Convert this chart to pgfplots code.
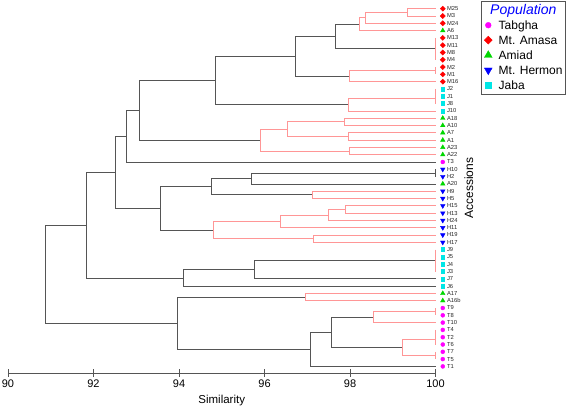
\documentclass[border=0pt]{standalone}
\usepackage{pgfplots}
\pgfplotsset{compat=1.18}
\usepackage{fontspec}
\setmainfont{Liberation Sans}
\definecolor{dk}{RGB}{85,85,85}
\definecolor{rd}{RGB}{255,150,150}
\definecolor{cT}{RGB}{255,0,255}
\definecolor{cM}{RGB}{255,0,0}
\definecolor{cA}{RGB}{0,215,0}
\definecolor{cH}{RGB}{0,0,255}
\definecolor{cJ}{RGB}{0,230,230}
\pgfplotsset{legmark/.style={legend image code/.code={\draw[mark repeat=2,mark phase=2,##1] plot coordinates {(-4pt,0pt)(0pt,0pt)(4pt,0pt)};}}}
\begin{document}
\begin{tikzpicture}
\useasboundingbox (-8pt,-35.3pt) rectangle (559pt,372.7pt);
\begin{axis}[
  scale only axis, width=427.5pt, height=372.7pt,
  xmin=90, xmax=100, ymin=0.137, ymax=51.19,
  clip=false,
  axis x line=bottom, axis y line=none,
  x axis line style={-, dk},
  xtick={90,92,...,100},
  tick align=center, major tick length=8pt,
  tick style={dk},
  /pgf/number format/assume math mode=true,
  xticklabel style={font=\fontsize{11}{13}\selectfont, text=black},
  xlabel={Similarity},
  every axis x label/.style={at={(axis description cs:0.5,0)}, anchor=base, yshift=-30.8pt, font=\fontsize{11.5}{13}\selectfont},
  legend style={at={(axis description cs:1.3046,0.9973)}, anchor=north east,
    draw=dk, font=\fontsize{12}{14}\selectfont, inner xsep=3pt, inner ysep=4pt,
    nodes={inner sep=0pt, text height=9pt, text depth=1pt}, row sep=5pt,
    /tikz/every odd column/.append style={column sep=6.5pt}},
  legend cell align=left,
]
% ---- dendrogram: dark links ----
\addplot[forget plot, dk, line width=0.7pt] coordinates {(98.22,47.875) (97.65,47.875) (97.65,44.5) (100,44.5)};
\addplot[forget plot, dk, line width=0.7pt] coordinates {(97.65,46.1875) (96.71,46.1875) (96.71,40.75) (97.98,40.75)};
\addplot[forget plot, dk, line width=0.7pt] coordinates {(96.71,43.46875) (94.85,43.46875) (94.85,36.875) (97.95,36.875)};
\addplot[forget plot, dk, line width=0.7pt] coordinates {(94.85,40.171875) (93.08,40.171875) (93.08,32) (95.90,32)};
\addplot[forget plot, dk, line width=0.7pt] coordinates {(93.08,36.0859) (92.78,36.0859) (92.78,29) (100,29)};
\addplot[forget plot, dk, line width=0.7pt] coordinates {(100,28) (100,28) (100,27) (100,27)};
\addplot[forget plot, dk, line width=0.7pt] coordinates {(100,27.5) (95.70,27.5) (95.70,26) (100,26)};
\addplot[forget plot, dk, line width=0.7pt] coordinates {(95.70,26.75) (94.76,26.75) (94.76,24.5) (97.13,24.5)};
\addplot[forget plot, dk, line width=0.7pt] coordinates {(94.76,25.625) (93.56,25.625) (93.56,19.6875) (94.81,19.6875)};
\addplot[forget plot, dk, line width=0.7pt] coordinates {(92.78,32.543) (92.50,32.543) (92.50,22.65625) (93.56,22.65625)};
\addplot[forget plot, dk, line width=0.7pt] coordinates {(100,15.5) (95.77,15.5) (95.77,13) (100,13)};
\addplot[forget plot, dk, line width=0.7pt] coordinates {(95.77,14.25) (94.11,14.25) (94.11,12) (100,12)};
\addplot[forget plot, dk, line width=0.7pt] coordinates {(92.50,27.5996) (91.84,27.5996) (91.84,13.125) (94.11,13.125)};
\addplot[forget plot, dk, line width=0.7pt] coordinates {(98.54,7.75) (97.56,7.75) (97.56,3.625) (99.23,3.625)};
\addplot[forget plot, dk, line width=0.7pt] coordinates {(97.56,5.6875) (97.08,5.6875) (97.08,1) (100,1)};
\addplot[forget plot, dk, line width=0.7pt] coordinates {(96.96,10.5) (93.95,10.5) (93.95,3.34375) (97.08,3.34375)};
\addplot[forget plot, dk, line width=0.7pt] coordinates {(91.84,20.362) (90.87,20.362) (90.87,6.921875) (93.95,6.921875)};
% ---- dendrogram: red links ----
\addplot[forget plot, rd, line width=0.7pt] coordinates {(100,50) (99.33,50) (99.33,49) (100,49)};
\addplot[forget plot, rd, line width=0.7pt] coordinates {(99.33,49.5) (98.37,49.5) (98.37,48) (100,48)};
\addplot[forget plot, rd, line width=0.7pt] coordinates {(98.37,48.75) (98.22,48.75) (98.22,47) (100,47)};
\addplot[forget plot, rd, line width=0.7pt] coordinates {(100,46) (100,43)};
\addplot[forget plot, rd, line width=0.7pt] coordinates {(100,42) (100,41)};
\addplot[forget plot, rd, line width=0.7pt] coordinates {(100,41.5) (97.98,41.5) (97.98,40) (100,40)};
\addplot[forget plot, rd, line width=0.7pt] coordinates {(100,39) (100,37)};
\addplot[forget plot, rd, line width=0.7pt] coordinates {(100,37.75) (97.95,37.75) (97.95,36) (100,36)};
\addplot[forget plot, rd, line width=0.7pt] coordinates {(100,35) (97.87,35) (97.87,34) (100,34)};
\addplot[forget plot, rd, line width=0.7pt] coordinates {(100,33) (97.95,33) (97.95,32) (100,32)};
\addplot[forget plot, rd, line width=0.7pt] coordinates {(97.87,34.5) (96.53,34.5) (96.53,32.5) (97.95,32.5)};
\addplot[forget plot, rd, line width=0.7pt] coordinates {(100,31) (97.98,31) (97.98,30) (100,30)};
\addplot[forget plot, rd, line width=0.7pt] coordinates {(96.53,33.5) (95.90,33.5) (95.90,30.5) (97.98,30.5)};
\addplot[forget plot, rd, line width=0.7pt] coordinates {(100,25) (97.13,25) (97.13,24) (100,24)};
\addplot[forget plot, rd, line width=0.7pt] coordinates {(100,23) (97.88,23) (97.88,22) (100,22)};
\addplot[forget plot, rd, line width=0.7pt] coordinates {(97.88,22.5) (97.49,22.5) (97.49,21) (100,21)};
\addplot[forget plot, rd, line width=0.7pt] coordinates {(97.49,21.75) (96.37,21.75) (96.37,20) (100,20)};
\addplot[forget plot, rd, line width=0.7pt] coordinates {(100,19) (97.14,19) (97.14,18) (100,18)};
\addplot[forget plot, rd, line width=0.7pt] coordinates {(96.37,20.875) (94.81,20.875) (94.81,18.5) (97.14,18.5)};
\addplot[forget plot, rd, line width=0.7pt] coordinates {(100,17) (100,14)};
\addplot[forget plot, rd, line width=0.7pt] coordinates {(100,11) (96.96,11) (96.96,10) (100,10)};
\addplot[forget plot, rd, line width=0.7pt] coordinates {(100,9) (100,8)};
\addplot[forget plot, rd, line width=0.7pt] coordinates {(100,8.5) (98.54,8.5) (98.54,7) (100,7)};
\addplot[forget plot, rd, line width=0.7pt] coordinates {(100,6) (100,4)};
\addplot[forget plot, rd, line width=0.7pt] coordinates {(100,3) (100,2)};
\addplot[forget plot, rd, line width=0.7pt] coordinates {(100,4.75) (99.23,4.75) (99.23,2.5) (100,2.5)};
% ---- leaf markers ----
\addplot[forget plot, only marks, mark=*, color=cT, mark size=2pt] coordinates {(100.17,29) (100.17,9) (100.17,8) (100.17,7) (100.17,6) (100.17,5) (100.17,4) (100.17,3) (100.17,2) (100.17,1)};
\addplot[forget plot, only marks, mark=square*, mark options={rotate=45}, color=cM, mark size=1.8pt] coordinates {(100.17,50) (100.17,49) (100.17,48) (100.17,46) (100.17,45) (100.17,44) (100.17,43) (100.17,42) (100.17,41) (100.17,40)};
\addplot[forget plot, only marks, mark=triangle*, color=cA, mark size=2.6pt] coordinates {(100.17,47) (100.17,35) (100.17,34) (100.17,33) (100.17,32) (100.17,31) (100.17,30) (100.17,26) (100.17,11) (100.17,10)};
\addplot[forget plot, only marks, mark=triangle*, mark options={rotate=180}, color=cH, mark size=2.6pt] coordinates {(100.17,28) (100.17,27) (100.17,25) (100.17,24) (100.17,23) (100.17,22) (100.17,21) (100.17,20) (100.17,19) (100.17,18)};
\addplot[forget plot, only marks, mark=square*, color=cJ, mark size=1.9pt] coordinates {(100.17,39) (100.17,38) (100.17,37) (100.17,36) (100.17,17) (100.17,16) (100.17,15) (100.17,14) (100.17,13) (100.17,12)};
% ---- leaf labels ----
\addplot[forget plot, only marks, mark=none, nodes near coords, point meta=explicit symbolic,
  nodes near coords style={anchor=west, inner sep=0pt, font=\fontsize{5.8}{6}\selectfont, text=black!85}]
  table[meta=lab] {
x y lab
100.265 50 M25
100.265 49 M3
100.265 48 M24
100.265 47 A6
100.265 46 M13
100.265 45 M11
100.265 44 M8
100.265 43 M4
100.265 42 M2
100.265 41 M1
100.265 40 M16
100.265 39 J2
100.265 38 J1
100.265 37 J8
100.265 36 J10
100.265 35 A18
100.265 34 A10
100.265 33 A7
100.265 32 A1
100.265 31 A23
100.265 30 A22
100.265 29 T3
100.265 28 H10
100.265 27 H2
100.265 26 A20
100.265 25 H9
100.265 24 H5
100.265 23 H15
100.265 22 H13
100.265 21 H24
100.265 20 H11
100.265 19 H19
100.265 18 H17
100.265 17 J9
100.265 16 J5
100.265 15 J4
100.265 14 J3
100.265 13 J7
100.265 12 J6
100.265 11 A17
100.265 10 A16b
100.265 9 T9
100.265 8 T8
100.265 7 T10
100.265 6 T4
100.265 5 T2
100.265 4 T6
100.265 3 T7
100.265 2 T5
100.265 1 T1
};
\node[rotate=90, anchor=center, font=\fontsize{12}{14}\selectfont, inner sep=0pt] at (axis cs:100.78,25.4) {Accessions};
% ---- legend ----
\addlegendimage{empty legend}
\addlegendentry{\hspace*{-8.5pt}\textcolor{blue}{\fontsize{14}{16}\selectfont\itshape Population}}
\addlegendimage{only marks, mark=*, color=cT, mark size=2.9pt, legmark}
\addlegendentry{Tabgha}
\addlegendimage{only marks, mark=square*, mark options={rotate=45}, color=cM, mark size=2.8pt, legmark}
\addlegendentry{Mt. Amasa}
\addlegendimage{only marks, mark=triangle*, color=cA, mark size=4.5pt, legmark}
\addlegendentry{Amiad}
\addlegendimage{only marks, mark=triangle*, mark options={rotate=180}, color=cH, mark size=4.5pt, legmark}
\addlegendentry{Mt. Hermon}
\addlegendimage{only marks, mark=square*, color=cJ, mark size=3.3pt, legmark}
\addlegendentry{Jaba}
\end{axis}
\end{tikzpicture}
\end{document}
